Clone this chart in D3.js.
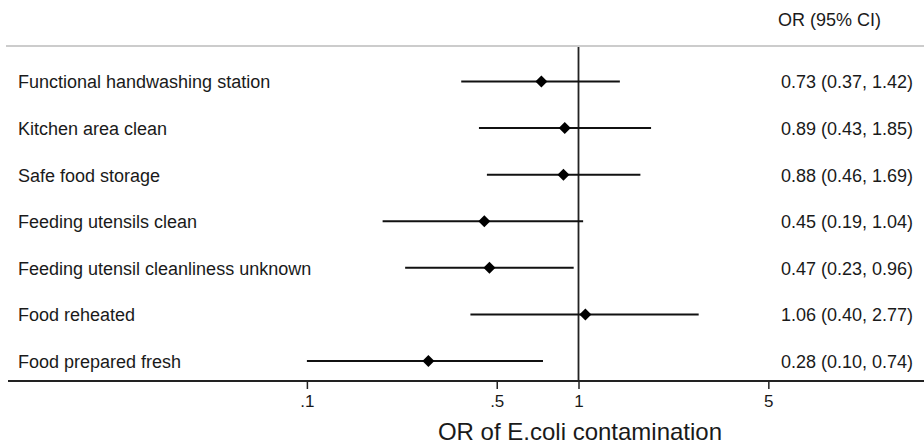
<!DOCTYPE html>
<html>
<head>
<meta charset="utf-8">
<script src="https://cdn.jsdelivr.net/npm/d3@7"></script>
<style>
  body { margin: 0; background: #fff; }
  text { font-family: Arial, "Liberation Sans", sans-serif; fill: #1a1a1a; }
</style>
</head>
<body>
<svg id="chart" width="924" height="444"></svg>
<script>
// Forest plot data
const factors = [
    "Functional handwashing station",
    "Kitchen area clean",
    "Safe food storage",
    "Feeding utensils clean",
    "Feeding utensil cleanliness unknown",
    "Food reheated",
    "Food prepared fresh"
];
const oddsRatios = [0.73, 0.89, 0.88, 0.45, 0.47, 1.06, 0.28];
const lowerCI = [0.37, 0.43, 0.46, 0.19, 0.23, 0.40, 0.10];
const upperCI = [1.42, 1.85, 1.69, 1.04, 0.96, 2.77, 0.74];
const tickValues = [0.1, 0.5, 1, 5];
const tickLabels = [".1", ".5", "1", "5"];

const data = factors.map((f, i) => ({
    factor: f, or: oddsRatios[i], lo: lowerCI[i], hi: upperCI[i]
}));

const svg = d3.select("#chart");
const width = +svg.attr("width");

const axisY = 381;

// log scale: 1 decade ~ 271.6px, OR=1 at x=578.5
const x = d3.scaleLog()
    .domain([0.1, 1])
    .range([306.9, 578.5]);

const y = d3.scalePoint()
    .domain(factors)
    .range([81.5, 361])
    .padding(0);

// Header
svg.append("text")
    .attr("x", 778)
    .attr("y", 26)
    .attr("font-size", "18px")
    .text("OR (95% CI)");

// Top separator line
svg.append("line")
    .attr("x1", 6).attr("x2", width)
    .attr("y1", 46).attr("y2", 46)
    .attr("stroke", "#cccccc")
    .attr("stroke-width", 2);

// Reference line at OR = 1
svg.append("line")
    .attr("x1", x(1)).attr("x2", x(1))
    .attr("y1", 47).attr("y2", axisY)
    .attr("stroke", "#222")
    .attr("stroke-width", 1.8);

// Bottom axis
const axis = d3.axisBottom(x)
    .tickValues(tickValues)
    .tickFormat((d, i) => tickLabels[i])
    .tickSize(8)
    .tickPadding(6);

const gAxis = svg.append("g")
    .attr("transform", `translate(0,${axisY})`)
    .call(axis);

gAxis.select(".domain").remove();
gAxis.append("line")
    .attr("x1", 8).attr("x2", width)
    .attr("y1", 0).attr("y2", 0)
    .attr("stroke", "#222")
    .attr("stroke-width", 1.8);
gAxis.selectAll(".tick line").attr("stroke", "#222").attr("stroke-width", 1.5);
gAxis.selectAll(".tick text")
    .attr("font-size", "17px")
    .attr("font-family", "Arial, 'Liberation Sans', sans-serif")
    .attr("fill", "#1a1a1a");

// Axis title
svg.append("text")
    .attr("x", 580)
    .attr("y", 440)
    .attr("text-anchor", "middle")
    .attr("font-size", "24px")
    .text("OR of E.coli contamination");

// Rows
const rows = svg.selectAll(".row")
    .data(data)
    .enter().append("g")
    .attr("class", "row")
    .attr("transform", d => `translate(0,${y(d.factor)})`);

rows.append("text")
    .attr("x", 18)
    .attr("dy", "0.38em")
    .attr("font-size", "18px")
    .text(d => d.factor);

rows.append("line")
    .attr("x1", d => x(d.lo))
    .attr("x2", d => x(d.hi))
    .attr("stroke", "#111")
    .attr("stroke-width", 2);

rows.append("path")
    .attr("d", "M0,-6L6,0L0,6L-6,0Z")
    .attr("transform", d => `translate(${x(d.or)},0)`)
    .attr("fill", "#000");

rows.append("text")
    .attr("x", 913)
    .attr("dy", "0.38em")
    .attr("text-anchor", "end")
    .attr("font-size", "18px")
    .text(d => `${d.or.toFixed(2)} (${d.lo.toFixed(2)}, ${d.hi.toFixed(2)})`);
</script>
</body>
</html>
